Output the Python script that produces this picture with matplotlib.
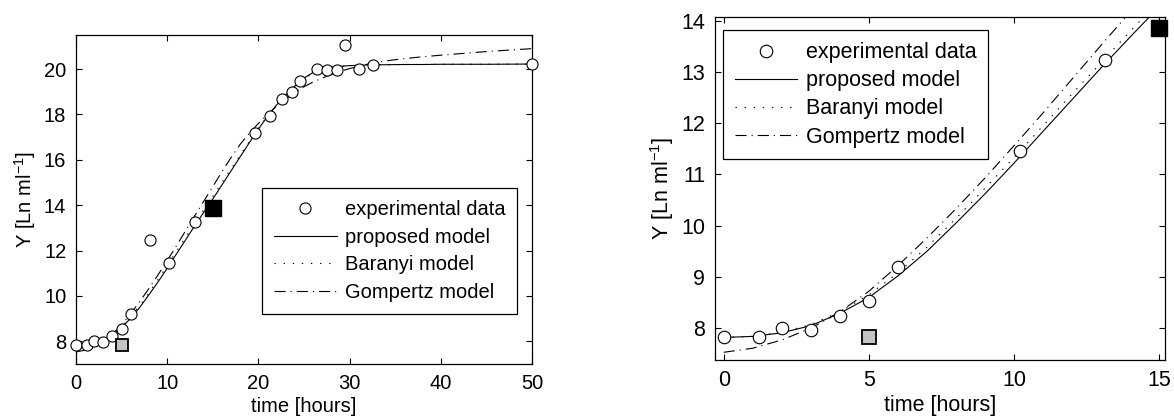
import numpy as np
import matplotlib
matplotlib.use("Agg")
import matplotlib.pyplot as plt

plt.rcParams['font.family'] = ['Liberation Sans', 'DejaVu Sans']
plt.rcParams['mathtext.default'] = 'regular'

# experimental data, full run (left panel)
t_all = [0, 1.2, 2.0, 3.0, 3.9, 5.0, 6.0, 8.1, 10.15, 13.07, 19.64, 21.25, 22.64,
         23.67, 24.54, 26.47, 27.57, 28.66, 29.47, 31.04, 32.57, 50.0]
y_all = [7.82, 7.82, 8.0, 7.97, 8.24, 8.53, 9.19, 12.48, 11.45, 13.24, 17.16, 17.95,
         18.68, 18.98, 19.48, 19.98, 19.94, 19.96, 21.08, 20.0, 20.17, 20.22]

# experimental data, early phase (right panel)
t_early = [0, 1.2, 2.0, 3.0, 4.0, 5.0, 6.0, 10.2, 13.15]
y_early = [7.82, 7.82, 8.0, 7.97, 8.23, 8.53, 9.19, 11.45, 13.24]

# model curves
t_mod = [0, 1, 2, 3, 4, 5, 6, 7, 8, 9, 10, 11, 12, 13, 14, 15, 16, 17, 18, 19, 20,
         21, 22, 23, 24, 25, 26, 27, 28, 29, 30, 32, 34, 36, 38, 40, 45, 50]
proposed = [7.82, 7.84, 7.91, 8.05, 8.29, 8.6, 9.02, 9.5, 10.05, 10.62, 11.22, 11.84,
            12.46, 13.08, 13.68, 14.27, 14.89, 15.51, 16.13, 16.75, 17.35, 17.92, 18.42,
            18.87, 19.25, 19.6, 19.85, 20.0, 20.08, 20.12, 20.15, 20.18, 20.19, 20.2,
            20.2, 20.21, 20.21, 20.22]
baranyi = [7.82, 7.84, 7.92, 8.07, 8.32, 8.65, 9.08, 9.58, 10.14, 10.73, 11.33, 11.95,
           12.57, 13.18, 13.79, 14.39, 15.0, 15.6, 16.2, 16.8, 17.38, 17.93, 18.42,
           18.86, 19.24, 19.57, 19.82, 19.98, 20.07, 20.12, 20.15, 20.18, 20.19, 20.2,
           20.2, 20.21, 20.21, 20.22]
gompertz = [7.53, 7.61, 7.77, 8.0, 8.32, 8.72, 9.22, 9.76, 10.33, 10.93, 11.56, 12.2,
            12.86, 13.52, 14.17, 14.82, 15.47, 16.1, 16.68, 17.17, 17.6, 18.0, 18.36,
            18.68, 18.97, 19.22, 19.43, 19.6, 19.76, 19.9, 20.02, 20.22, 20.36, 20.46,
            20.54, 20.61, 20.77, 20.9]

# the two reference points (squares)
sq_gray = (5.0, 7.82)
sq_black = (15.0, 13.86)

labels = ['experimental data', 'proposed model', 'Baranyi model', 'Gompertz model']

fig = plt.figure(figsize=(11.74, 4.17), dpi=100)
W, H = 1174, 417

def px_axes(x0, y0, x1, y1):
    return fig.add_axes([x0 / W, (H - y1) / H, (x1 - x0) / W, (y1 - y0) / H])

dotted = (0, (1.2, 7))
dashdot = (0, (10, 4.5, 1, 4.5))


def panel(ax, td, yd, fs, circ, sqb, sqg):
    lw = 0.8
    h1, = ax.plot(td, yd, 'o', mfc='white', mec='black', ms=circ, mew=0.8,
                  clip_on=False, zorder=3)
    h2, = ax.plot(t_mod, proposed, '-', color='black', lw=lw)
    h3, = ax.plot(t_mod, baranyi, color='black', lw=lw, linestyle=dotted)
    h4, = ax.plot(t_mod, gompertz, color='black', lw=lw, linestyle=dashdot)
    ax.plot(*sq_gray, 's', mfc='#c4c4c4', mec='black', ms=sqg, mew=1.3,
            clip_on=False, zorder=4)
    ax.plot(*sq_black, 's', mfc='black', mec='black', ms=sqb, clip_on=False,
            zorder=4)
    ax.tick_params(direction='in', top=True, right=True, length=4, width=0.8,
                   labelsize=fs, pad=7)
    for s in ax.spines.values():
        s.set_linewidth(0.9)
    ax.set_xlabel('time [hours]', fontsize=fs, labelpad=3)
    ax.set_ylabel('Y [Ln ml$^{-1}$]', fontsize=fs, labelpad=4)
    return [h1, h2, h3, h4]


def add_legend(ax, hs, anchor, fs, hl, ls, bp):
    leg = ax.legend(hs, labels, loc='upper left', bbox_to_anchor=anchor,
                    fontsize=fs, numpoints=1, handlelength=hl, handletextpad=0.4,
                    labelspacing=ls, borderpad=bp, borderaxespad=0,
                    fancybox=False, framealpha=1, edgecolor='black')
    leg.get_frame().set_linewidth(0.9)


# left panel
ax1 = px_axes(76, 35, 532, 364)
hs = panel(ax1, t_all, y_all, 14.5, 8, 11, 8.6)
ax1.set_xlim(0, 50)
ax1.set_ylim(7.0, 21.5)
ax1.set_xticks([0, 10, 20, 30, 40, 50])
ax1.set_yticks([8, 10, 12, 14, 16, 18, 20])
add_legend(ax1, hs, (0.408, 0.536), 14.5, 3.1, 0.44, 0.6)

# right panel
ax2 = px_axes(715, 17, 1165, 360)
hs = panel(ax2, t_early, y_early, 15.5, 9, 11.5, 9.4)
ax2.set_xlim(-0.3, 15.2)
ax2.set_ylim(7.38, 14.07)
ax2.set_xticks([0, 5, 10, 15])
ax2.set_yticks([8, 9, 10, 11, 12, 13, 14])
add_legend(ax2, hs, (0.018, 0.961), 15.5, 2.9, 0.33, 0.55)

fig.savefig('out.png', dpi=100)
